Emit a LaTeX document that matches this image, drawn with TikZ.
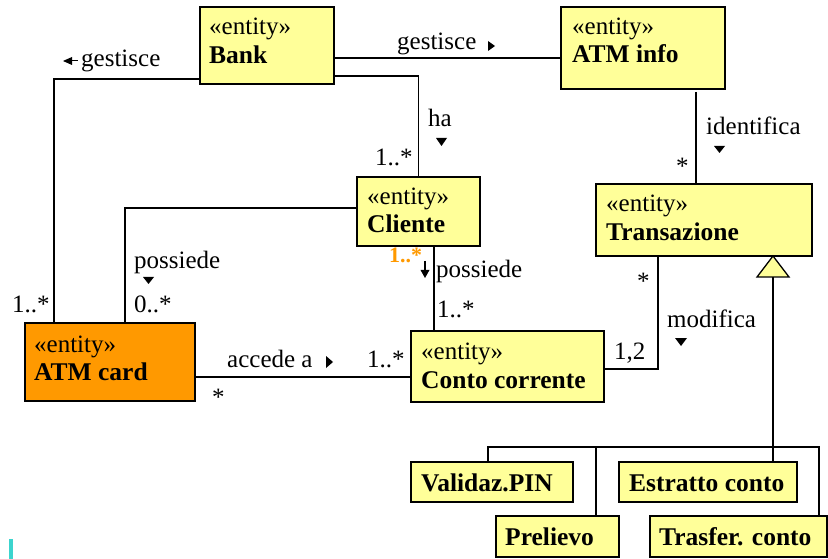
\documentclass[tikz,border=0pt]{standalone}
\usepackage{fontspec}
\setmainfont{Liberation Serif}
\usetikzlibrary{calc}
\definecolor{umlyellow}{HTML}{FFFF99}
\definecolor{umlorange}{HTML}{FF9900}
\definecolor{barcyan}{RGB}{60,212,206}
\begin{document}
\begin{tikzpicture}[x=1bp,y=-1bp,
  box/.style={draw, line width=1.5bp, fill=umlyellow, inner sep=0pt, outer sep=0pt},
  txt/.style={font=\fontsize{25bp}{30bp}\selectfont, inner sep=0pt, anchor=base west},
  btxt/.style={txt, font=\fontsize{25.5bp}{30bp}\selectfont\bfseries},
  otxt/.style={inner sep=0pt, anchor=base west, text=umlorange, font=\fontsize{22bp}{26bp}\selectfont\bfseries},
  conn/.style={line width=1.3bp},
  dirtip/.style={fill=black}]
\useasboundingbox (0,0) rectangle (828,559);
% boxes
\node[box, minimum width=134bp, minimum height=77bp] (bank) at (267,45.5) {};
\node[box, minimum width=164bp, minimum height=82bp] (atminfo) at (643,48) {};
\node[box, minimum width=123bp, minimum height=69bp] (cliente) at (418.5,211.5) {};
\node[box, minimum width=216bp, minimum height=72bp] (trans) at (704,220) {};
\node[box, fill=umlorange, minimum width=170bp, minimum height=78bp] (card) at (110,362) {};
\node[box, minimum width=193bp, minimum height=71bp] (conto) at (507.5,366.5) {};
\node[box, minimum width=162bp, minimum height=40bp] (pin) at (492,482) {};
\node[box, minimum width=178bp, minimum height=40bp] (estratto) at (708,482) {};
\node[box, minimum width=123bp, minimum height=41bp] (prelievo) at (557.5,536.5) {};
\node[box, minimum width=177bp, minimum height=41bp] (trasfer) at (738.5,536.5) {};
% box texts
\node[txt]  (bank-s) at ($(bank.north west)+(9,28)$) {«entity»};
\node[btxt] (bank-n) at ($(bank.north west)+(9,57)$) {Bank};
\node[txt]  (atminfo-s) at ($(atminfo.north west)+(11,28)$) {«entity»};
\node[btxt] (atminfo-n) at ($(atminfo.north west)+(11,56)$) {ATM info};
\node[txt]  (cliente-s) at ($(cliente.north west)+(10,28)$) {«entity»};
\node[btxt] (cliente-n) at ($(cliente.north west)+(10,56)$) {Cliente};
\node[txt]  (trans-s) at ($(trans.north west)+(10,28)$) {«entity»};
\node[btxt] (trans-n) at ($(trans.north west)+(10,57)$) {Transazione};
\node[txt]  (card-s) at ($(card.north west)+(9,29)$) {«entity»};
\node[btxt] (card-n) at ($(card.north west)+(9,57)$) {ATM card};
\node[txt]  (conto-s) at ($(conto.north west)+(10,28)$) {«entity»};
\node[btxt] (conto-n) at ($(conto.north west)+(10,57)$) {Conto corrente};
\node[btxt] (pin-n) at ($(pin.north west)+(10,29)$) {Validaz.PIN};
\node[btxt] (estratto-n) at ($(estratto.north west)+(10,29)$) {Estratto conto};
\node[btxt] (prelievo-n) at ($(prelievo.north west)+(9,29)$) {Prelievo};
\node[btxt] (trasfer-n) at ($(trasfer.north west)+(9,29)$) {Trasfer. conto};
% connectors
\draw[conn] (bank.east |- 0,58) -- (atminfo.west |- 0,58);
\draw[conn] (bank.east |- 0,76) -| (cliente.north);
\draw[conn] (bank.west |- 0,79) -| (card.north -| 54,0);
\draw[conn] (cliente.west |- 0,208) -| (card.north -| 125,0);
\draw[conn] (cliente.south -| 434,0) -- (conto.north -| 434,0);
\draw[conn] (card.east |- 0,377) -- (conto.west |- 0,377);
\draw[conn] ($(atminfo.south -| 696,0)+(0,3)$) -- (trans.north -| 696,0);
\draw[conn] (trans.south -| 658,0) |- (conto.east |- 0,369);
% generalization
\coordinate (genbase) at (773,277);
\draw[line width=1.3bp, fill=umlyellow] (trans.south -| 773,0) -- (789,277) -- (757,277) -- cycle;
\draw[conn] (genbase) -- (estratto.north -| 773,0);
\draw[conn] (pin.north -| 488,0) |- (819,447) -- (trasfer.north -| 819,0);
\draw[conn] (596,447) -- (prelievo.north -| 596,0);
% association labels
\node[txt] (l-gest1) at (397,50) {gestisce};
\fill[dirtip] (488,41) -- (495,46) -- (488,51) -- cycle;
\node[txt] (l-gest2) at (81,67) {gestisce};
\fill[dirtip] (63,61) -- (72,57) -- (72,65) -- cycle;
\draw[line width=1bp] (72,61) -- (78,61);
\node[txt] (l-ha) at (428,127) {ha};
\fill[dirtip] (436,138) -- (447,138) -- (441.5,146) -- cycle;
\node[txt] (m-ha) at (375,166) {1..*};
\node[txt] (m-gest2) at (12,313) {1..*};
\node[txt] (l-poss1) at (134,269) {possiede};
\fill[dirtip] (143,277) -- (154,277) -- (148.5,284) -- cycle;
\node[txt] (m-poss1) at (134,313) {0..*};
\node[otxt] (m-poss2a) at (389,263) {1..*};
\draw[line width=1.2bp] (425,261) -- (425,271);
\fill[dirtip] (420.5,270) -- (429.5,270) -- (425,278) -- cycle;
\node[txt] (l-poss2) at (436,278) {possiede};
\node[txt] (m-poss2b) at (437,318) {1..*};
\node[txt] (l-acc) at (227,367) {accede a};
\fill[dirtip] (326,356) -- (333,362) -- (326,368) -- cycle;
\node[txt] (m-acc1) at (367,367) {1..*};
\node[txt] (m-acc2) at (212,405) {*};
\node[txt] (l-ident) at (706,135) {identifica};
\fill[dirtip] (714,146) -- (725,146) -- (719.5,153) -- cycle;
\node[txt] (m-ident) at (676,175) {*};
\node[txt] (m-mod1) at (637,290) {*};
\node[txt] (l-mod) at (667,328) {modifica};
\fill[dirtip] (675,338) -- (687,338) -- (681,346) -- cycle;
\node[txt] (m-mod2) at (614,359) {1,2};
% cyan mark
\fill[barcyan] (9,539) rectangle (13,559);
\end{tikzpicture}
\end{document}
